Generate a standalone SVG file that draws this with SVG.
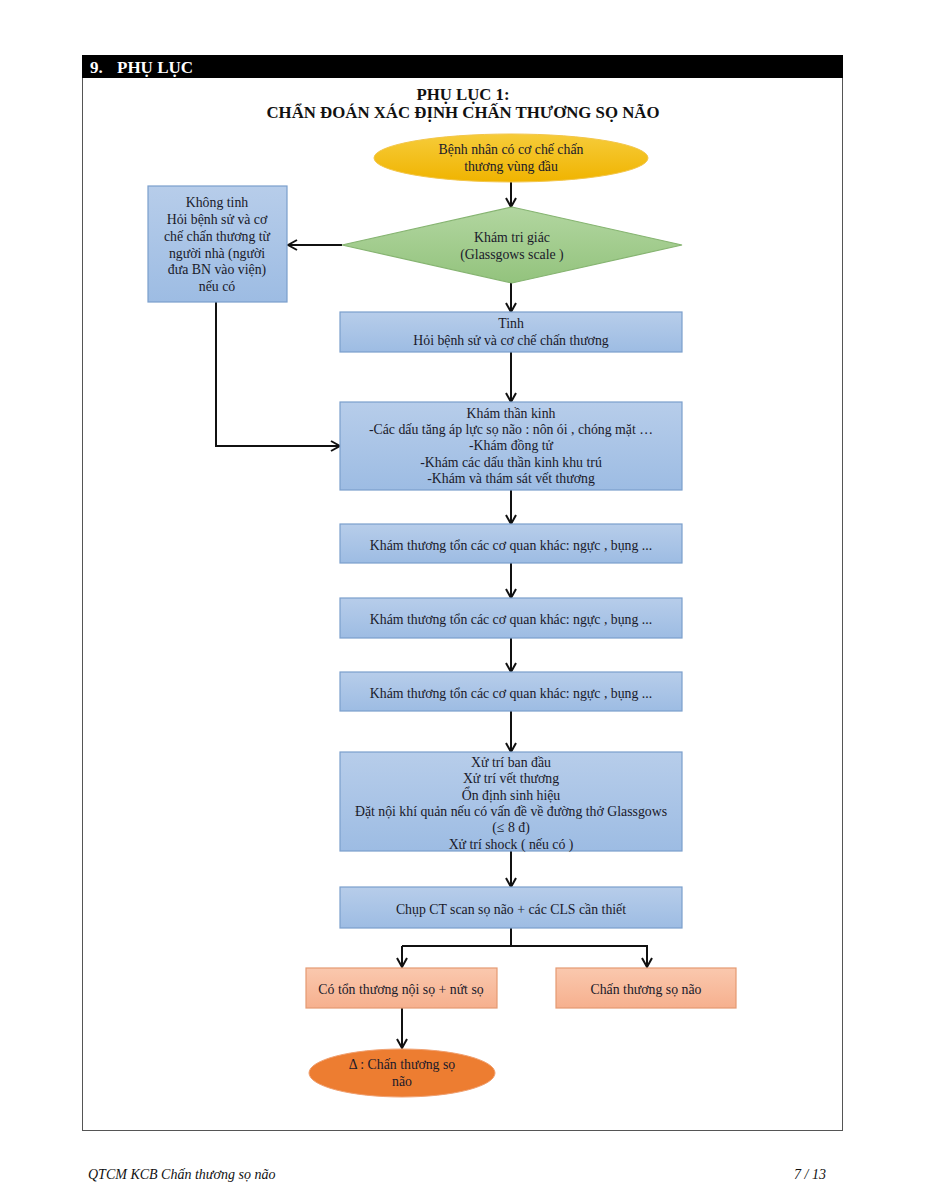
<svg xmlns="http://www.w3.org/2000/svg" width="927" height="1200" viewBox="0 0 927 1200">
<defs>
<style>
.t{font-family:"Liberation Serif","Times New Roman",serif;font-size:13.8px;fill:#1a1a2a;text-anchor:middle}
.blue{fill:url(#gBlue);stroke:#7b9fcc;stroke-width:1.2}
.orng{fill:url(#gOr);stroke:#e49a72;stroke-width:1.2}
.c{fill:none;stroke:#111;stroke-width:2}
.h{font-family:"Liberation Serif","Times New Roman",serif;font-weight:bold;fill:#111;text-anchor:middle;font-size:16.8px}
.f{font-family:"Liberation Serif","Times New Roman",serif;font-size:14px;font-style:italic;fill:#111}
</style>
<linearGradient id="gBlue" x1="0" y1="0" x2="0" y2="1">
<stop offset="0" stop-color="#b7cdea"/><stop offset="1" stop-color="#9dbce3"/>
</linearGradient>
<linearGradient id="gOr" x1="0" y1="0" x2="0" y2="1">
<stop offset="0" stop-color="#fac8ae"/><stop offset="1" stop-color="#f6b08e"/>
</linearGradient>
<linearGradient id="gY" x1="0" y1="0" x2="0" y2="1">
<stop offset="0" stop-color="#f6cc3a"/><stop offset="1" stop-color="#f0b400"/>
</linearGradient>
<linearGradient id="gG" x1="0" y1="0" x2="0" y2="1">
<stop offset="0" stop-color="#b2d6a0"/><stop offset="1" stop-color="#93c37d"/>
</linearGradient>
<marker id="ah" viewBox="0 0 12 12" refX="11" refY="6" markerWidth="12" markerHeight="12" markerUnits="userSpaceOnUse" orient="auto">
<path d="M2,1 L11,6 L2,11" fill="none" stroke="#111" stroke-width="2"/>
</marker>
</defs>
<rect width="927" height="1200" fill="#fff"/>
<g id="page">
<rect x="82.5" y="55.5" width="760" height="1075" fill="none" stroke="#555" stroke-width="1"/>
<rect x="82" y="55" width="761" height="23" fill="#000"/>
<text x="90" y="73" style="font-family:'Liberation Serif',serif;font-size:17px;font-weight:bold;fill:#fff">9.</text>
<text x="117" y="73" style="font-family:'Liberation Serif',serif;font-size:17px;font-weight:bold;fill:#fff">PHỤ LỤC</text>
<text class="h" x="463" y="100">PHỤ LỤC 1:</text>
<text class="h" x="463" y="118">CHẨN ĐOÁN XÁC ĐỊNH CHẤN THƯƠNG SỌ NÃO</text>
<text class="f" x="88" y="1179">QTCM KCB Chấn thương sọ não</text>
<text class="f" x="826" y="1179" text-anchor="end">7 / 13</text>
</g>
<g id="connectors">
<line class="c" x1="511" y1="182" x2="511" y2="207" marker-end="url(#ah)"/>
<line class="c" x1="342" y1="245" x2="288" y2="245" marker-end="url(#ah)"/>
<line class="c" x1="511" y1="283" x2="511" y2="312" marker-end="url(#ah)"/>
<polyline class="c" points="216,302 216,446 340,446" marker-end="url(#ah)"/>
<line class="c" x1="511" y1="352" x2="511" y2="402" marker-end="url(#ah)"/>
<line class="c" x1="511" y1="490" x2="511" y2="524" marker-end="url(#ah)"/>
<line class="c" x1="511" y1="563" x2="511" y2="598" marker-end="url(#ah)"/>
<line class="c" x1="511" y1="638" x2="511" y2="672" marker-end="url(#ah)"/>
<line class="c" x1="511" y1="711" x2="511" y2="752" marker-end="url(#ah)"/>
<line class="c" x1="511" y1="851" x2="511" y2="887" marker-end="url(#ah)"/>
<line class="c" x1="511" y1="928" x2="511" y2="946"/>
<polyline class="c" points="402,946 647,946 647,967" marker-end="url(#ah)"/>
<line class="c" x1="402" y1="946" x2="402" y2="967" marker-end="url(#ah)"/>
<line class="c" x1="402" y1="1008" x2="402" y2="1048" marker-end="url(#ah)"/>
</g>
<g id="start">
<ellipse cx="511" cy="158" rx="137" ry="24" fill="url(#gY)" stroke="#f3c64a" stroke-width="1"/>
<text class="t" x="511" y="154">Bệnh nhân có cơ chế chấn</text>
<text class="t" x="511" y="171">thương vùng đầu</text>
</g>
<g id="decision">
<polygon points="512,207 682,245 512,283 342,245" fill="url(#gG)" stroke="#86b471" stroke-width="1.2"/>
<text class="t" x="512" y="242">Khám tri giác</text>
<text class="t" x="512" y="259">(Glassgows scale )</text>
</g>
<g id="unconscious">
<rect class="blue" x="148" y="186" width="139" height="116"/>
<text class="t" x="217" y="207">Không tinh</text>
<text class="t" x="217" y="224">Hỏi bệnh sử và cơ</text>
<text class="t" x="217" y="241">chế chấn thương từ</text>
<text class="t" x="217" y="258">người nhà (người</text>
<text class="t" x="217" y="274">đưa BN vào viện)</text>
<text class="t" x="217" y="291">nếu có</text>
</g>
<g id="conscious">
<rect class="blue" x="340" y="312" width="342" height="40"/>
<text class="t" x="511" y="328">Tinh</text>
<text class="t" x="511" y="345">Hỏi bệnh sử và cơ chế chấn thương</text>
</g>
<g id="neuro">
<rect class="blue" x="340" y="402" width="342" height="88"/>
<text class="t" x="511" y="418">Khám thần kinh</text>
<text class="t" x="511" y="434">-Các dấu tăng áp lực sọ não : nôn ói , chóng mặt …</text>
<text class="t" x="511" y="450">-Khám đồng tử</text>
<text class="t" x="511" y="467">-Khám các dấu thần kinh khu trú</text>
<text class="t" x="511" y="483">-Khám và thám sát vết thương</text>
</g>
<g id="organs1">
<rect class="blue" x="340" y="524" width="342" height="39"/>
<text class="t" x="511" y="550">Khám thương tổn các cơ quan khác: ngực , bụng ...</text>
</g>
<g id="organs2">
<rect class="blue" x="340" y="598" width="342" height="40"/>
<text class="t" x="511" y="624">Khám thương tổn các cơ quan khác: ngực , bụng ...</text>
</g>
<g id="organs3">
<rect class="blue" x="340" y="672" width="342" height="39"/>
<text class="t" x="511" y="698">Khám thương tổn các cơ quan khác: ngực , bụng ...</text>
</g>
<g id="initial">
<rect class="blue" x="340" y="752" width="342" height="99"/>
<text class="t" x="511" y="767">Xử trí ban đầu</text>
<text class="t" x="511" y="783">Xử trí vết thương</text>
<text class="t" x="511" y="800">Ổn định sinh hiệu</text>
<text class="t" x="511" y="816">Đặt nội khí quản nếu có vấn đề về đường thở Glassgows</text>
<text class="t" x="511" y="832">(≤ 8 đ)</text>
<text class="t" x="511" y="849">Xử trí shock ( nếu có )</text>
</g>
<g id="ct">
<rect class="blue" x="340" y="887" width="342" height="41"/>
<text class="t" x="511" y="914">Chụp CT scan sọ não + các CLS cần thiết</text>
</g>
<g id="lesion">
<rect class="orng" x="306" y="968" width="191" height="40"/>
<text class="t" x="401" y="994">Có tổn thương nội sọ + nứt sọ</text>
</g>
<g id="tbi">
<rect class="orng" x="556" y="968" width="180" height="40"/>
<text class="t" x="646" y="994">Chấn thương sọ não</text>
</g>
<g id="diagnosis">
<ellipse cx="402" cy="1073" rx="93" ry="24" fill="#ed7d31" stroke="#f0a070" stroke-width="1"/>
<text class="t" x="402" y="1069">Δ : Chấn thương sọ</text>
<text class="t" x="402" y="1086">não</text>
</g>
</svg>
